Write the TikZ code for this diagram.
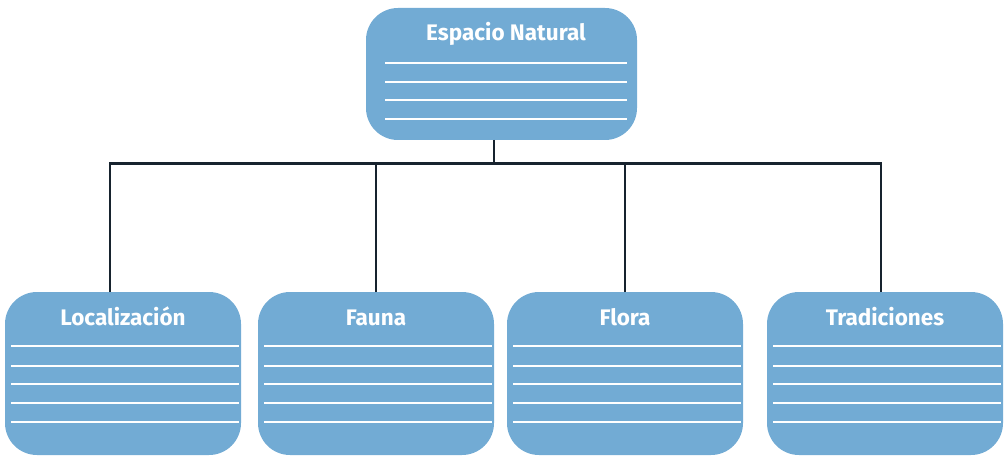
\documentclass[tikz,border=0pt]{standalone}
\usepackage{fontspec}
\setmainfont{Fira Sans}
\definecolor{boxblue}{HTML}{72ABD4}
\definecolor{linedark}{HTML}{17232E}
\begin{document}
\begin{tikzpicture}[x=1pt,y=-1pt,
  card/.style={fill=boxblue, rounded corners=32pt, draw=none},
  title/.style={text=white, font=\fontsize{22.5}{24}\selectfont\bfseries, anchor=base, inner sep=0pt},
  rule/.style={draw=white, line width=1.6pt},
  conn/.style={draw=linedark, line width=2.2pt}]
\useasboundingbox (0,0) rectangle (1008,457);
% top box
\path[card] (366,8) rectangle (637,140);
\node[title] (top) at (506,41) {Espacio Natural};
\foreach \y in {63,82,100,119} \draw[rule] (385,\y) -- (627,\y);
\coordinate (topb) at (494,140);
\coordinate (hub) at (494,163.5);
% bottom boxes
\foreach \l/\r/\name/\txt in {5/241/loc/Localización, 258/494/fau/Fauna, 507/743/flo/Flora, 767/1003/tra/Tradiciones}{
  \path[card] (\l,292) rectangle (\r,455);
  \node[title] (\name) at ({(\l+\r)/2},325.5) {\txt};
  \foreach \y in {346,366,384,403,422} \draw[rule] ({\l+6},\y) -- ({\r-2},\y);
}
\coordinate (locT) at (110,292);
\coordinate (fauT) at (376,292);
\coordinate (floT) at (625,292);
\coordinate (traT) at (881,292);
\draw[conn] (topb) -- (hub);
\draw[conn] (locT) |- (traT |- hub) -- (traT);
\draw[conn] (fauT) -- (fauT |- hub);
\draw[conn] (floT) -- (floT |- hub);
\end{tikzpicture}
\end{document}
